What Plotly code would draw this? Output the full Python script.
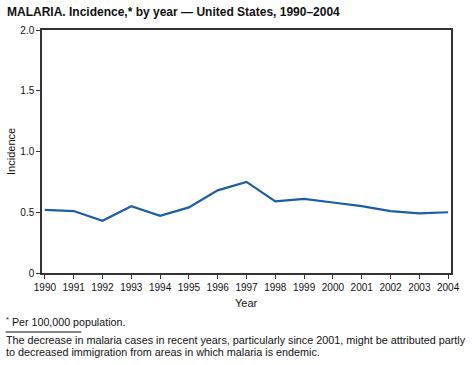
import plotly.graph_objects as go

years = list(range(1990, 2005))
incidence = [0.52, 0.51, 0.43, 0.55, 0.47, 0.54, 0.68, 0.75, 0.59, 0.61, 0.58, 0.55, 0.51, 0.49, 0.50]
y_tickvals = [0, 0.5, 1.0, 1.5, 2.0]
y_ticktext = ["0", "0.5", "1.0", "1.5", "2.0"]

FONT = "Liberation Sans, Arial, Helvetica, sans-serif"
AX = "#333333"

# plot area in pixels: left 42, right 457, top 30, bottom 273
PW, PH = 415, 243
def px(x):
    return (x - 42) / PW
def py(y):
    return (273 - y) / PH

fig = go.Figure()
fig.add_trace(go.Scatter(x=years, y=incidence, mode="lines",
                         line=dict(color="#1a5ea6", width=2.2), showlegend=False))

fig.update_layout(
    width=472, height=365,
    margin=dict(l=42, r=15, t=30, b=92),
    paper_bgcolor="white", plot_bgcolor="white",
    font=dict(family=FONT, size=10, color="#111111"),
    xaxis=dict(range=[1989.9, 2004.1], tickvals=years, ticktext=[str(y) for y in years],
               ticks="outside", ticklen=4, tickcolor=AX, showgrid=False, zeroline=False,
               showline=True, linecolor=AX, linewidth=1.5, mirror=True,
               tickfont=dict(size=10, family=FONT)),
    yaxis=dict(range=[0, 2.0], tickvals=y_tickvals, ticktext=y_ticktext,
               ticks="outside", ticklen=4, tickcolor=AX, showgrid=False, zeroline=False,
               showline=True, linecolor=AX, linewidth=1.5, mirror=True,
               tickfont=dict(size=10, family=FONT)),
    annotations=[
        dict(text="<b>MALARIA. Incidence,* by year — United States, 1990–2004</b>",
             xref="paper", yref="paper", x=px(4), y=py(12), xanchor="left", yanchor="middle",
             showarrow=False, font=dict(size=12, family=FONT)),
        dict(text="Incidence", xref="paper", yref="paper", x=px(10), y=0.5, textangle=-90,
             xanchor="center", yanchor="middle", showarrow=False, font=dict(size=11, family=FONT)),
        dict(text="Year", xref="paper", yref="paper", x=px(250), y=py(303),
             xanchor="center", yanchor="middle", showarrow=False, font=dict(size=11, family=FONT)),
        dict(text="<sup>*</sup> Per 100,000 population.", xref="paper", yref="paper",
             x=px(3), y=py(321), xanchor="left", yanchor="middle", showarrow=False,
             font=dict(size=10.7, family=FONT)),
        dict(text="The decrease in malaria cases in recent years, particularly since 2001, might be attributed partly",
             xref="paper", yref="paper", x=px(3), y=py(340), xanchor="left", yanchor="middle",
             align="left", showarrow=False, font=dict(size=10.8, family=FONT)),
        dict(text="to decreased immigration from areas in which malaria is endemic.",
             xref="paper", yref="paper", x=px(3), y=py(352), xanchor="left", yanchor="middle",
             align="left", showarrow=False, font=dict(size=10.8, family=FONT)),
    ],
    shapes=[
        dict(type="line", xref="paper", yref="paper", x0=px(5), x1=px(82),
             y0=py(332), y1=py(332), line=dict(color="#111111", width=1)),
    ],
)

fig.write_html("out.html", config={"displayModeBar": False},
               post_script="document.body.style.margin='0px';document.body.style.overflow='hidden';")
